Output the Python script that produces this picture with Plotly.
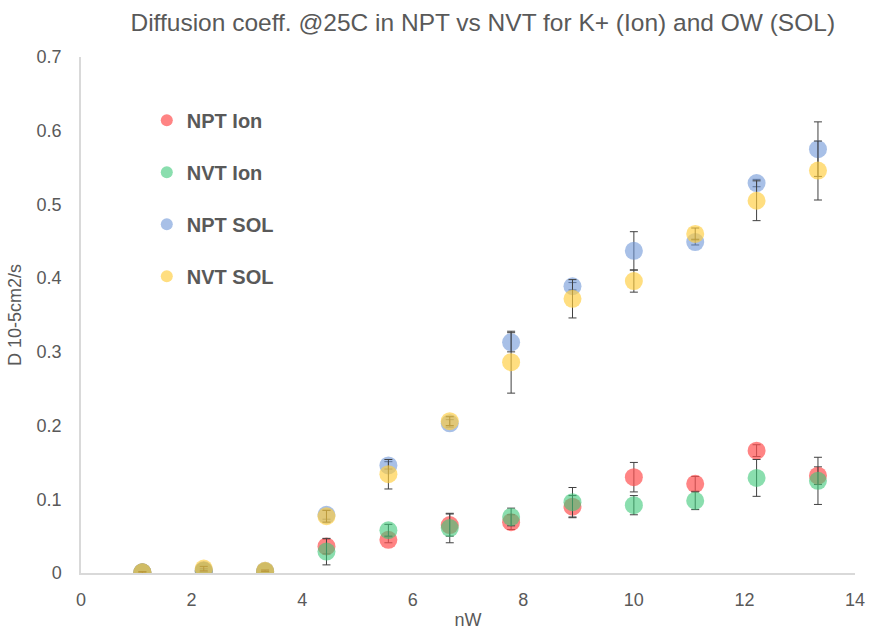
import plotly.graph_objects as go

nW = [1.11, 2.22, 3.33, 4.44, 5.56, 6.67, 7.78, 8.89, 10.0, 11.11, 12.22, 13.33]

npt_ion = [0.001, 0.003, 0.002, 0.036, 0.045, 0.065, 0.069, 0.090, 0.130, 0.121, 0.166, 0.132]
npt_ion_err = [0.001, 0.002, 0.001, 0.010, 0.004, 0.015, 0.010, 0.015, 0.020, 0.010, 0.008, 0.012]
nvt_ion = [0.001, 0.003, 0.002, 0.029, 0.058, 0.061, 0.076, 0.096, 0.092, 0.098, 0.129, 0.125]
nvt_ion_err = [0.001, 0.002, 0.001, 0.018, 0.008, 0.020, 0.012, 0.020, 0.013, 0.012, 0.025, 0.032]
npt_sol = [0.001, 0.004, 0.003, 0.079, 0.146, 0.203, 0.313, 0.389, 0.437, 0.449, 0.529, 0.575]
npt_sol_err = [0.001, 0.002, 0.001, 0.006, 0.005, 0.005, 0.013, 0.005, 0.026, 0.004, 0.005, 0.037]
nvt_sol = [0.001, 0.006, 0.003, 0.077, 0.134, 0.206, 0.286, 0.372, 0.396, 0.460, 0.505, 0.546]
nvt_sol_err = [0.001, 0.003, 0.001, 0.008, 0.020, 0.006, 0.042, 0.026, 0.015, 0.008, 0.027, 0.040]

names = ["NPT Ion", "NVT Ion", "NPT SOL", "NVT SOL"]
colors = ["rgba(255,80,80,0.7)", "rgba(60,200,120,0.6)", "rgba(110,150,215,0.6)", "rgba(255,205,60,0.65)"]

series = [(npt_ion, npt_ion_err), (nvt_ion, nvt_ion_err), (npt_sol, npt_sol_err), (nvt_sol, nvt_sol_err)]

fig = go.Figure()
for i, ((y, e), name, c) in enumerate(zip(series, names, colors)):
    fig.add_trace(go.Scatter(
        x=nW, y=y, mode="markers", name=name, legendgroup=name,
        marker=dict(size=18, color=c, line=dict(width=0)),
        error_y=dict(type="data", array=e, visible=True, color="#404040", thickness=1, width=4),
    ))

fig.update_layout(
    width=873, height=635,
    margin=dict(l=81, r=18, t=57, b=62),
    paper_bgcolor="white", plot_bgcolor="white",
    font=dict(family="Liberation Sans, Arial, sans-serif", color="#595959", size=18),
    title=dict(text="Diffusion coeff. @25C in NPT vs NVT for K+ (Ion) and OW (SOL)",
               x=0.553, xanchor="center", y=0.965, yanchor="middle",
               font=dict(size=24.5, color="#595959")),
    showlegend=True,
    legend=dict(x=0.085, y=0.915, xanchor="left", yanchor="top", bgcolor="rgba(0,0,0,0)",
                font=dict(size=20, color="#595959", family="Liberation Sans, Arial, sans-serif", weight="bold"),
                tracegroupgap=23, itemsizing="constant"),
    xaxis=dict(range=[0, 14], dtick=2, showgrid=False, zeroline=False, automargin=False,
               showline=True, linecolor="#d9d9d9", linewidth=1.5,
               ticks="", ticklabelstandoff=10,
               title=dict(text="nW", font=dict(size=18, color="#595959"), standoff=4)),
    yaxis=dict(range=[0, 0.7], dtick=0.1, showgrid=False, zeroline=False, automargin=False,
               showline=True, linecolor="#d9d9d9", linewidth=1.5,
               ticks="", tickformat="~g", ticklabelstandoff=14,
               title=dict(text="D 10-5cm2/s", font=dict(size=18, color="#595959"), standoff=10)),
)

fig.write_html("out.html")
